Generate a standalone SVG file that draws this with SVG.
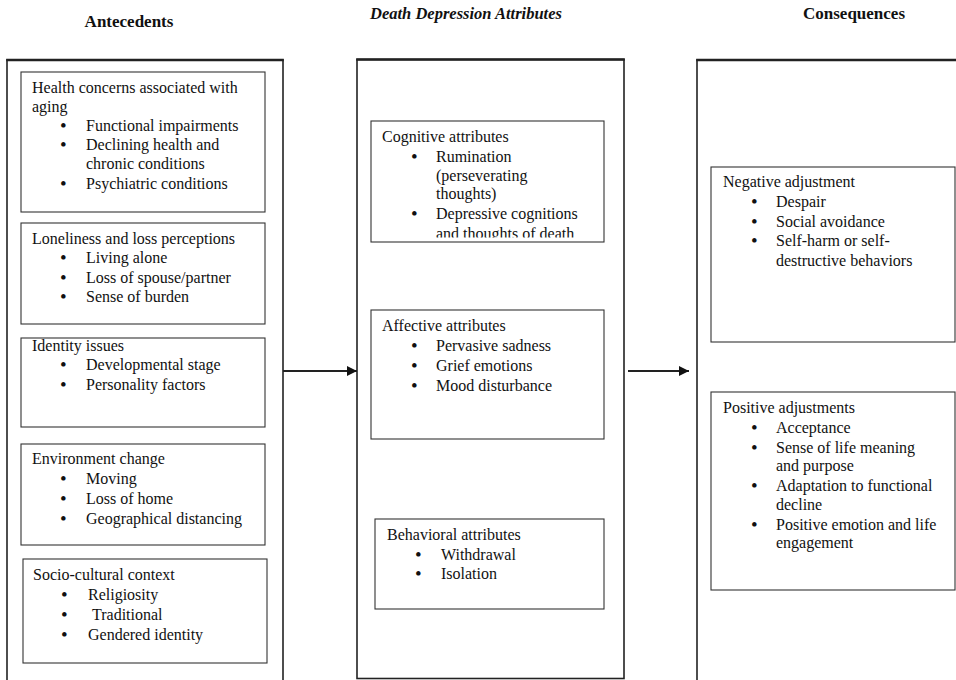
<svg xmlns="http://www.w3.org/2000/svg" width="956" height="680" viewBox="0 0 956 680">
<style>
.col{fill:none;stroke:#222;stroke-width:1.6}
.coltop{stroke:#222;stroke-width:2.6}
.box{fill:none;stroke:#333;stroke-width:1.1}
.t{font-family:"Liberation Serif","Times New Roman",serif;font-size:16px;fill:#111}
.b{font-size:19px}
.h{font-family:"Liberation Serif","Times New Roman",serif;font-size:17px;font-weight:bold;fill:#111;text-anchor:middle}
.hi{font-style:italic;font-size:16.5px}
.conn{stroke:#222;stroke-width:2;fill:none}
</style>
<defs>
<marker id="arr" viewBox="0 0 10 10" refX="10" refY="5" markerWidth="10" markerHeight="10" markerUnits="userSpaceOnUse" orient="auto">
<path d="M0,0 L10,5 L0,10 z" fill="#111"/>
</marker>
<clipPath id="cogclip"><rect x="371" y="121" width="233" height="116.5"/></clipPath>
</defs>
<rect width="956" height="680" fill="#fff"/>

<text class="h" x="129" y="27">Antecedents</text>
<text class="h hi" x="466" y="19">Death Depression Attributes</text>
<text class="h" x="854" y="19">Consequences</text>

<g id="antecedents">
<rect class="col" x="7" y="60" width="276" height="630"/>
<line class="coltop" x1="6.2" y1="60" x2="283.8" y2="60"/>
</g>
<g id="attributes">
<rect class="col" x="357" y="59.5" width="267" height="619"/>
<line class="coltop" x1="356.2" y1="59.5" x2="624.8" y2="59.5"/>
</g>
<g id="consequences">
<rect class="col" x="697" y="60" width="280" height="630"/>
<line class="coltop" x1="696.2" y1="60" x2="960" y2="60"/>
</g>

<g id="health">
<rect class="box" x="21" y="72" width="244" height="140"/>
<text class="t"><tspan x="32" y="93">Health concerns associated with</tspan><tspan x="32" y="112">aging</tspan><tspan class="b" x="60" y="132">•</tspan><tspan x="86" y="131">Functional impairments</tspan><tspan class="b" x="60" y="151">•</tspan><tspan x="86" y="150">Declining health and</tspan><tspan x="86" y="169">chronic conditions</tspan><tspan class="b" x="60" y="190">•</tspan><tspan x="86" y="189">Psychiatric conditions</tspan></text>
</g>
<g id="loneliness">
<rect class="box" x="21" y="223" width="244" height="101"/>
<text class="t"><tspan x="32" y="244">Loneliness and loss perceptions</tspan><tspan class="b" x="60" y="264">•</tspan><tspan x="86" y="263">Living alone</tspan><tspan class="b" x="60" y="284">•</tspan><tspan x="86" y="283">Loss of spouse/partner</tspan><tspan class="b" x="60" y="303">•</tspan><tspan x="86" y="302">Sense of burden</tspan></text>
</g>
<g id="identity">
<rect class="box" x="21" y="338" width="244" height="89"/>
<text class="t"><tspan x="32" y="351">Identity issues</tspan><tspan class="b" x="60" y="371">•</tspan><tspan x="86" y="370">Developmental stage</tspan><tspan class="b" x="60" y="391">•</tspan><tspan x="86" y="390">Personality factors</tspan></text>
</g>
<g id="environment">
<rect class="box" x="21" y="444" width="244" height="101"/>
<text class="t"><tspan x="32" y="464">Environment change</tspan><tspan class="b" x="60" y="485">•</tspan><tspan x="86" y="484">Moving</tspan><tspan class="b" x="60" y="505">•</tspan><tspan x="86" y="504">Loss of home</tspan><tspan class="b" x="60" y="525">•</tspan><tspan x="86" y="524">Geographical distancing</tspan></text>
</g>
<g id="sociocultural">
<rect class="box" x="23" y="559" width="244" height="104"/>
<text class="t"><tspan x="33" y="580">Socio-cultural context</tspan><tspan class="b" x="61" y="601">•</tspan><tspan x="88" y="600">Religiosity</tspan><tspan class="b" x="61" y="621">•</tspan><tspan x="92" y="620">Traditional</tspan><tspan class="b" x="61" y="641">•</tspan><tspan x="88" y="640">Gendered identity</tspan></text>
</g>

<g id="cognitive">
<rect class="box" x="371" y="121" width="233" height="121"/>
<text class="t" clip-path="url(#cogclip)"><tspan x="382" y="142">Cognitive attributes</tspan><tspan class="b" x="411" y="163">•</tspan><tspan x="436" y="162">Rumination</tspan><tspan x="436" y="181">(perseverating</tspan><tspan x="436" y="199">thoughts)</tspan><tspan class="b" x="411" y="220">•</tspan><tspan x="436" y="219">Depressive cognitions</tspan><tspan x="436" y="239">and thoughts of death</tspan></text>
</g>
<g id="affective">
<rect class="box" x="371" y="310" width="233" height="129"/>
<text class="t"><tspan x="382" y="331">Affective attributes</tspan><tspan class="b" x="411" y="352">•</tspan><tspan x="436" y="351">Pervasive sadness</tspan><tspan class="b" x="411" y="372">•</tspan><tspan x="436" y="371">Grief emotions</tspan><tspan class="b" x="411" y="392">•</tspan><tspan x="436" y="391">Mood disturbance</tspan></text>
</g>
<g id="behavioral">
<rect class="box" x="375" y="519" width="229" height="90"/>
<text class="t"><tspan x="387" y="540">Behavioral attributes</tspan><tspan class="b" x="415" y="561">•</tspan><tspan x="441" y="560">Withdrawal</tspan><tspan class="b" x="415" y="580">•</tspan><tspan x="441" y="579">Isolation</tspan></text>
</g>

<g id="negative">
<rect class="box" x="711" y="167" width="244" height="175"/>
<text class="t"><tspan x="723" y="187">Negative adjustment</tspan><tspan class="b" x="751" y="208">•</tspan><tspan x="776" y="207">Despair</tspan><tspan class="b" x="751" y="228">•</tspan><tspan x="776" y="227">Social avoidance</tspan><tspan class="b" x="751" y="247">•</tspan><tspan x="776" y="246">Self-harm or self-</tspan><tspan x="776" y="266">destructive behaviors</tspan></text>
</g>
<g id="positive">
<rect class="box" x="711" y="392" width="244" height="198"/>
<text class="t"><tspan x="723" y="413">Positive adjustments</tspan><tspan class="b" x="751" y="434">•</tspan><tspan x="776" y="433">Acceptance</tspan><tspan class="b" x="751" y="454">•</tspan><tspan x="776" y="453">Sense of life meaning</tspan><tspan x="776" y="471">and purpose</tspan><tspan class="b" x="751" y="492">•</tspan><tspan x="776" y="491">Adaptation to functional</tspan><tspan x="776" y="510">decline</tspan><tspan class="b" x="751" y="531">•</tspan><tspan x="776" y="530">Positive emotion and life</tspan><tspan x="776" y="548">engagement</tspan></text>
</g>

<g id="connectors">
<line class="conn" x1="283" y1="371" x2="357" y2="371" marker-end="url(#arr)"/>
<line class="conn" x1="628" y1="371" x2="689" y2="371" marker-end="url(#arr)"/>
</g>
</svg>
